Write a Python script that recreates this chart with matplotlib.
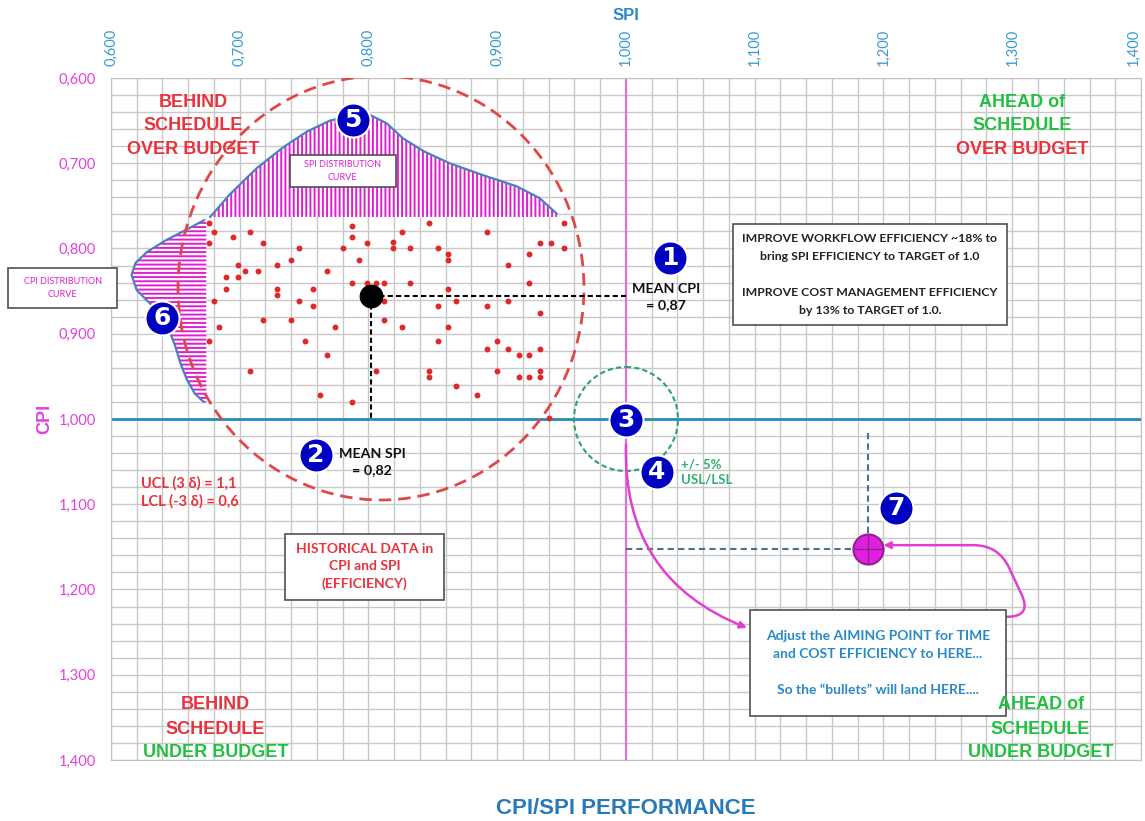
import matplotlib
matplotlib.use('Agg')
import matplotlib.pyplot as plt
from matplotlib.patches import Ellipse, Rectangle
import numpy as np

# historical project data (SPI, CPI)
spi_hist = [0.676, 0.787, 0.847, 0.952, 0.680, 0.695, 0.708, 0.787, 0.826, 0.892,
            0.676, 0.718, 0.799, 0.819, 0.819, 0.933, 0.942, 0.746, 0.780, 0.832,
            0.854, 0.862, 0.862, 0.952, 0.925, 0.740, 0.793, 0.699, 0.729, 0.704,
            0.714, 0.768, 0.908, 0.689, 0.699, 0.787, 0.799, 0.806, 0.812, 0.832,
            0.925, 0.689, 0.729, 0.729, 0.757, 0.862, 0.680, 0.746, 0.812, 0.868,
            0.908, 0.757, 0.854, 0.892, 0.933, 0.718, 0.740, 0.812, 0.684, 0.774,
            0.826, 0.862, 0.676, 0.751, 0.854, 0.900, 0.892, 0.908, 0.933, 0.768,
            0.917, 0.925, 0.708, 0.806, 0.847, 0.847, 0.900, 0.933, 0.933, 0.917,
            0.925, 0.868, 0.762, 0.884, 0.787, 0.940]
cpi_hist = [0.770, 0.774, 0.770, 0.770, 0.781, 0.786, 0.781, 0.787, 0.781, 0.781,
            0.793, 0.793, 0.793, 0.792, 0.800, 0.793, 0.793, 0.800, 0.800, 0.800,
            0.800, 0.806, 0.813, 0.800, 0.806, 0.813, 0.813, 0.819, 0.819, 0.826,
            0.826, 0.826, 0.819, 0.833, 0.833, 0.840, 0.840, 0.840, 0.840, 0.840,
            0.840, 0.848, 0.848, 0.855, 0.848, 0.848, 0.862, 0.862, 0.862, 0.862,
            0.862, 0.868, 0.868, 0.868, 0.876, 0.884, 0.884, 0.884, 0.892, 0.892,
            0.892, 0.892, 0.908, 0.908, 0.908, 0.908, 0.918, 0.918, 0.918, 0.925,
            0.925, 0.925, 0.944, 0.944, 0.944, 0.951, 0.944, 0.944, 0.951, 0.951,
            0.951, 0.961, 0.972, 0.972, 0.980, 0.999]

# SPI distribution curve (above the cloud), baseline at CPI 0.763
spi_dist_x = [0.677, 0.692, 0.713, 0.734, 0.752, 0.770, 0.786, 0.802, 0.814,
              0.827, 0.843, 0.863, 0.889, 0.915, 0.933, 0.946, 0.947]
spi_dist_y = [0.763, 0.737, 0.706, 0.681, 0.663, 0.650, 0.644, 0.644, 0.653,
              0.671, 0.686, 0.700, 0.714, 0.727, 0.741, 0.759, 0.763]
spi_base = 0.763

# CPI distribution curve (left of the cloud), baseline at SPI 0.674
cpi_dist_y = [0.765, 0.767, 0.776, 0.790, 0.804, 0.817, 0.831, 0.849, 0.864,
              0.876, 0.899, 0.915, 0.935, 0.954, 0.970, 0.980]
cpi_dist_x = [0.674, 0.672, 0.661, 0.643, 0.628, 0.619, 0.616, 0.620, 0.630,
              0.639, 0.646, 0.650, 0.654, 0.659, 0.665, 0.672]
cpi_base = 0.674

mean_spi, mean_cpi = 0.802, 0.856
target_spi, target_cpi = 1.188, 1.152

tick_vals = np.arange(0.6, 1.401, 0.1)
tick_labels = [f'{v:.3f}'.replace('.', ',') for v in tick_vals]

RED = '#e8323c'
GREEN = '#22c040'
MAG = '#e01ed0'
BLUE_TXT = '#2a8ac8'
NARROW = ['Liberation Sans Narrow', 'Liberation Sans', 'DejaVu Sans']
CAL = ['Lato', 'DejaVu Sans']

plt.rcParams['hatch.linewidth'] = 1.4

fig = plt.figure(figsize=(11.45, 8.21), dpi=100)
ax = fig.add_axes([111/1145, 1-760/821, 1030/1145, 682/821])
ax.set_xlim(0.6, 1.4)
ax.set_ylim(1.4, 0.6)

# grid
ax.set_xticks(tick_vals)
ax.set_yticks(tick_vals)
ax.set_xticks(np.arange(0.6, 1.401, 0.02), minor=True)
ax.set_yticks(np.arange(0.6, 1.401, 0.02), minor=True)
ax.grid(which='both', color='#c8c8c8', lw=1.0)
ax.set_axisbelow(True)
ax.xaxis.tick_top()
ax.set_xticklabels(tick_labels, rotation=90, color='#3a9ad0', family=CAL, fontsize=10.5)
ax.get_xticklabels()[-1].set_ha('right')
ax.set_yticklabels(tick_labels, color='#e040e0', family=CAL, fontsize=10.5)
ax.tick_params(which='both', length=0)
ax.tick_params(axis='x', pad=9)
ax.tick_params(axis='y', pad=11)
for s in ax.spines.values():
    s.set_color('#c0c0c0')

# target lines
ax.axhline(1.0, color='#2a8ab8', lw=2, zorder=2)
ax.axvline(1.0, color='#e070d8', lw=1.5, zorder=2)

# distribution curves
ax.fill_between(spi_dist_x, spi_dist_y, spi_base, facecolor='white', edgecolor=MAG,
                hatch='||||', linewidth=0, zorder=3)
ax.plot(spi_dist_x[:-1], spi_dist_y[:-1], color='#4a80c0', lw=1.6, zorder=4)
ax.fill_betweenx(cpi_dist_y, cpi_dist_x, cpi_base, facecolor='white', edgecolor=MAG,
                 hatch='----', linewidth=0, zorder=3)
ax.plot(cpi_dist_x[1:], cpi_dist_y[1:], color='#4a80c0', lw=1.6, zorder=4)

# control limit circle and tolerance circle
ax.add_patch(Ellipse((0.8097, 0.8463), 0.3153, 0.4974, fill=False, ec='#e04848',
                     lw=2, ls=(0, (4.5, 2.5)), zorder=5))
ax.add_patch(Ellipse((1.0, 1.0), 0.0808, 0.122, fill=False, ec='#30a070',
                     lw=1.5, ls=(0, (2.5, 1.5)), zorder=5))

# historical points
ax.scatter(spi_hist, cpi_hist, s=18, color='#e02828', zorder=6, linewidths=0)

# mean point and guides
ax.plot([mean_spi, 1.0], [mean_cpi, mean_cpi], color='black', lw=1.5, ls=(0, (2.5, 1.5)), zorder=6)
ax.plot([mean_spi, mean_spi], [mean_cpi, 1.0], color='black', lw=1.5, ls=(0, (2.5, 1.5)), zorder=6)
ax.scatter([mean_spi], [mean_cpi], s=260, color='black', zorder=7)

# aiming point
ax.plot([target_spi, target_spi], [1.016, target_cpi], color='#507090', lw=1.5,
        ls=(0, (3, 2)), zorder=6)
ax.plot([1.0, target_spi], [target_cpi, target_cpi], color='#507090', lw=1.5,
        ls=(0, (3, 2)), zorder=6)
ax.scatter([target_spi], [target_cpi], s=470, color='#e020e0', edgecolors='#902090',
           linewidths=1.5, zorder=8)
ax.scatter([target_spi], [target_cpi], s=470, marker='+', color='#902090',
           linewidths=1, zorder=9)

# arrows
ax.annotate('', xy=(1.094, 1.245), xytext=(1.0, 1.03),
            arrowprops=dict(arrowstyle='-|>', color='#e040d0', lw=1.8, mutation_scale=10,
                            shrinkA=0, shrinkB=0, connectionstyle='arc3,rad=0.35'), zorder=7)
ax.annotate('', xy=(1.200, 1.148), xytext=(1.296, 1.232),
            arrowprops=dict(arrowstyle='-|>', color='#e040d0', lw=1.8, mutation_scale=10,
                            shrinkA=0, shrinkB=0,
                            connectionstyle='arc,angleA=0,angleB=0,armA=25,armB=115,rad=25'),
            zorder=7)

# boxes
def box(x0, x1, y0, y1, clip=True):
    ax.add_patch(Rectangle((x0, y0), x1-x0, y1-y0, facecolor='white', edgecolor='#505050',
                           lw=1.2, zorder=9, clip_on=clip))

box(1.083, 1.296, 0.771, 0.890)
ax.text(1.1895, 0.8305, 'IMPROVE WORKFLOW EFFICIENCY ~18% to\nbring SPI EFFICIENCY to TARGET of 1.0\n\n'
        'IMPROVE COST MANAGEMENT EFFICIENCY\nby 13% to TARGET of 1.0.',
        ha='center', va='center', fontsize=8.8, fontweight='bold', color='#222222',
        family=CAL, linespacing=1.8, zorder=10)

box(1.096, 1.295, 1.224, 1.348)
ax.text(1.1955, 1.286, 'Adjust the AIMING POINT for TIME\nand COST EFFICIENCY to HERE...\n\n'
        'So the \u201cbullets\u201d will land HERE....',
        ha='center', va='center', fontsize=10, fontweight='bold', color=BLUE_TXT,
        family=CAL, linespacing=1.6, zorder=10)

box(0.735, 0.859, 1.135, 1.212)
ax.text(0.797, 1.1735, 'HISTORICAL DATA in\nCPI and SPI\n(EFFICIENCY)', ha='center', va='center',
        fontsize=10, fontweight='bold', color=RED, family=CAL, linespacing=1.5, zorder=10)

box(0.739, 0.821, 0.690, 0.728)
ax.text(0.780, 0.709, 'SPI DISTRIBUTION\nCURVE', ha='center', va='center', fontsize=6.5,
        color=MAG, family=CAL, linespacing=1.5, zorder=10)

box(0.520, 0.605, 0.823, 0.870, clip=False)
ax.text(0.5625, 0.8465, 'CPI DISTRIBUTION\nCURVE', ha='center', va='center', fontsize=6.5,
        color=MAG, family=CAL, linespacing=1.5, zorder=10, clip_on=False)

# annotations
ax.text(1.031, 0.857, 'MEAN CPI\n= 0,87', ha='center', va='center', fontsize=10.3,
        fontweight='bold', color='#111111', family=CAL, linespacing=1.4, zorder=10)
ax.text(0.803, 1.050, 'MEAN SPI\n= 0,82', ha='center', va='center', fontsize=10.3,
        fontweight='bold', color='#111111', family=CAL, linespacing=1.4, zorder=10)
ax.text(1.043, 1.062, '+/- 5%\nUSL/LSL', ha='left', va='center', fontsize=9.5,
        fontweight='bold', color='#30b070', family=CAL, linespacing=1.35, zorder=10)
ax.text(0.623, 1.086, 'UCL (3 \u03b4) = 1,1\nLCL (-3 \u03b4) = 0,6', ha='left', va='center',
        fontsize=10.5, fontweight='bold', color=RED, family=CAL, linespacing=1.35, zorder=10)

# quadrant labels
quad = [
    (0.664, ['BEHIND', 'SCHEDULE', 'OVER BUDGET'], [RED, RED, RED], [0.629, 0.656, 0.684]),
    (1.308, ['AHEAD of', 'SCHEDULE', 'OVER BUDGET'], [GREEN, GREEN, RED], [0.629, 0.656, 0.684]),
    (0.681, ['BEHIND', 'SCHEDULE', 'UNDER BUDGET'], [RED, RED, GREEN], [1.335, 1.364, 1.391]),
    (1.322, ['AHEAD of', 'SCHEDULE', 'UNDER BUDGET'], [GREEN, GREEN, GREEN], [1.335, 1.364, 1.391]),
]
for qx, lines, cols, ys in quad:
    for t, c, qy in zip(lines, cols, ys):
        ax.text(qx, qy, t, ha='center', va='center', fontsize=13, fontweight='bold',
                color=c, family=NARROW, zorder=10)

# numbered badges
badges = [(1, 1.034, 0.811), (2, 0.759, 1.042), (3, 1.0, 1.001), (4, 1.024, 1.062),
          (5, 0.788, 0.649), (6, 0.640, 0.882), (7, 1.210, 1.104)]
for n, bx, by in badges:
    ax.scatter([bx], [by], s=600, color='#0000c0', edgecolors='white', linewidths=1.5, zorder=11)
    ax.text(bx, by, str(n), ha='center', va='center', fontsize=18, fontweight='bold',
            color='white', zorder=12)

# axis titles
fig.text(626/1145, 1-15/821, 'SPI', ha='center', va='center', fontsize=12,
         fontweight='bold', color='#2a8ac8', family=NARROW)
fig.text(45/1145, 1-419/821, 'CPI', ha='center', va='center', rotation=90, fontsize=13,
         fontweight='bold', color='#e040e0', family=NARROW)
fig.text(626/1145, 1-808/821, 'CPI/SPI PERFORMANCE', ha='center', va='center', fontsize=16,
         fontweight='bold', color='#2a7ab8', family=NARROW)

fig.savefig('out.png', dpi=100)
plt.close(fig)
